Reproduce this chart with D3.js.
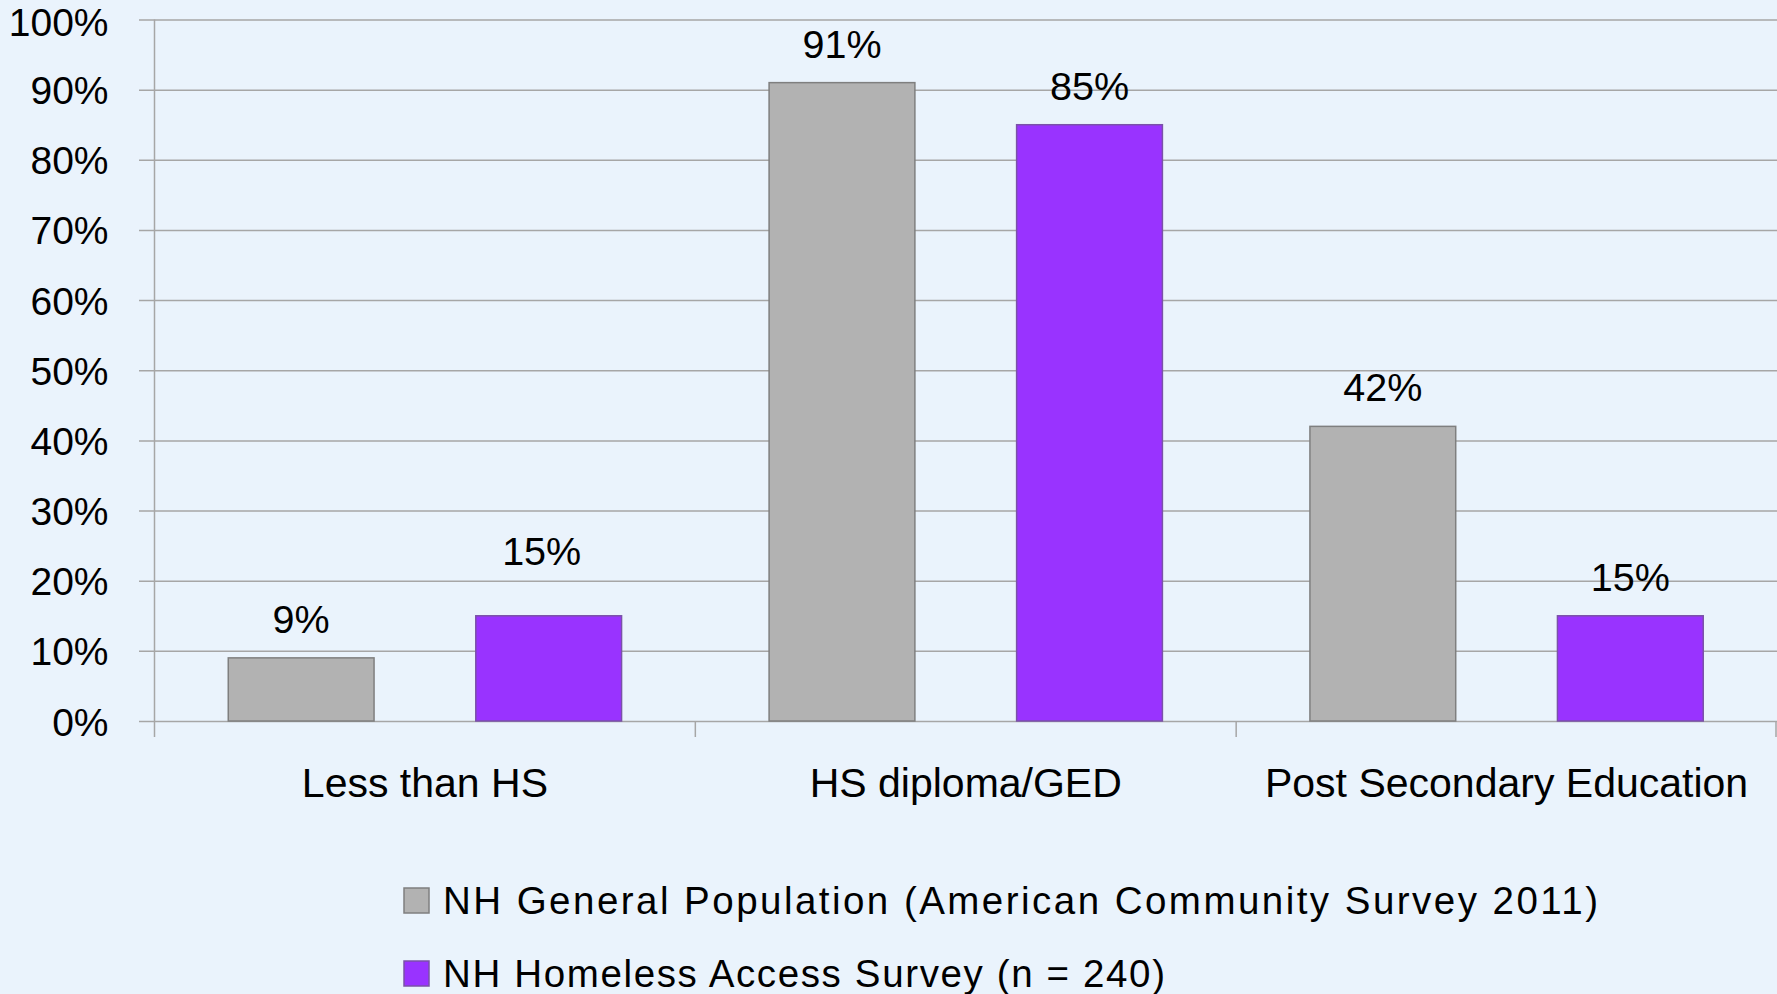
<!DOCTYPE html>
<html><head><meta charset="utf-8">
<script src="https://cdn.jsdelivr.net/npm/d3@7"></script>
<style>
html,body{margin:0;padding:0;background:#EAF3FC;}
svg{display:block;}
text{font-family:"Liberation Sans",Arial,sans-serif;fill:#000;}
</style></head>
<body>
<svg id="chart" width="1777" height="994"></svg>
<script>
const categories = ["Less than HS", "HS diploma/GED", "Post Secondary Education"];
const seriesNames = ["NH General Population (American Community Survey 2011)", "NH Homeless Access Survey (n = 240)"];
const generalPop = [0.09, 0.91, 0.42];
const homeless = [0.15, 0.85, 0.15];
const yTicks = [0, 0.1, 0.2, 0.3, 0.4, 0.5, 0.6, 0.7, 0.8, 0.9, 1.0];
const seriesColors = ["#B2B2B2", "#9933FF"];
const seriesStroke = ["#7F7F7F", "#7A52A8"];

const svg = d3.select("#chart");
const W = 1777, H = 994;
svg.append("rect").attr("width", W).attr("height", H).attr("fill", "#EAF3FC");

const plot = {left: 154.5, right: 1777, top: 19.5, bottom: 721};
const y = d3.scaleLinear().domain([0, 1]).range([plot.bottom, plot.top]);
const x0 = d3.scaleBand().domain(categories).range([plot.left, plot.right]).padding(0);
const x1 = d3.scaleBand().domain([0, 1]).range([0, x0.bandwidth()]).paddingInner(0.411).paddingOuter(0.298);

const fmt = d3.format(".0%");

// gridlines + tick labels
const yAxis = d3.axisLeft(y).tickValues(yTicks).tickFormat(fmt).tickSize(-(plot.right - plot.left)).tickPadding(0);
const gy = svg.append("g").attr("transform", `translate(${plot.left},0)`).call(yAxis);
gy.select(".domain").remove();
gy.selectAll(".tick line").attr("x1", -15.5).attr("stroke", "#A6A6A6").attr("stroke-width", 1.5);
gy.selectAll(".tick text").attr("x", -46).attr("dy", "0.36em")
  .style("font-family", '"Liberation Sans",Arial,sans-serif').style("font-size", "39px").attr("fill", "#000");
// keep the top label inside the page
gy.selectAll(".tick text").filter(d => d === 1).attr("dy", "0.40em");

// y axis vertical line
svg.append("line").attr("x1", plot.left).attr("x2", plot.left).attr("y1", plot.top).attr("y2", plot.bottom + 16)
  .attr("stroke", "#A6A6A6").attr("stroke-width", 1.5);

// category divider ticks
svg.selectAll(".divtick").data(categories).enter().append("line")
  .attr("x1", c => x0(c) + x0.bandwidth() - (c === categories[categories.length-1] ? 1 : 0))
  .attr("x2", c => x0(c) + x0.bandwidth() - (c === categories[categories.length-1] ? 1 : 0))
  .attr("y1", plot.bottom).attr("y2", plot.bottom + 16)
  .attr("stroke", "#A6A6A6").attr("stroke-width", 1.5);

// bars
const series = [generalPop, homeless];
series.forEach((vals, si) => {
  const g = svg.append("g");
  g.selectAll("rect").data(categories).enter().append("rect")
    .attr("x", c => x0(c) + x1(si))
    .attr("width", x1.bandwidth())
    .attr("y", (c, i) => y(vals[i]))
    .attr("height", (c, i) => y(0) - y(vals[i]))
    .attr("fill", seriesColors[si])
    .attr("stroke", seriesStroke[si]).attr("stroke-width", 1.5);
  g.selectAll("text").data(categories).enter().append("text")
    .attr("x", (c, i) => x0(c) + x1(si) + x1.bandwidth() / 2 + (si === 1 && i === 0 ? -7 : 0))
    .attr("y", (c, i) => y(vals[i]) - 25 - (si === 1 && i === 0 ? 26 : 0))
    .attr("text-anchor", "middle")
    .style("font-size", "39.5px")
    .text((c, i) => fmt(vals[i]));
});

// x category labels
svg.selectAll(".xlab").data(categories).enter().append("text")
  .attr("x", c => x0(c) + x0.bandwidth() / 2)
  .attr("y", 797)
  .attr("text-anchor", "middle")
  .style("font-size", "41px")
  .text(c => c);

// legend
const legend = svg.append("g").attr("transform", "translate(404,0)");
const legendRows = [888, 961];
const legendLens = [1155, 722];
seriesNames.forEach((name, i) => {
  legend.append("rect").attr("x", 0).attr("y", legendRows[i]).attr("width", 25).attr("height", 25)
    .attr("fill", seriesColors[i]).attr("stroke", seriesStroke[i]).attr("stroke-width", 1.5);
  legend.append("text").attr("x", 39).attr("y", legendRows[i] + 26)
    .style("font-size", "38.5px")
    .attr("textLength", legendLens[i]).attr("lengthAdjust", "spacing")
    .text(name);
});
</script>
</body></html>
